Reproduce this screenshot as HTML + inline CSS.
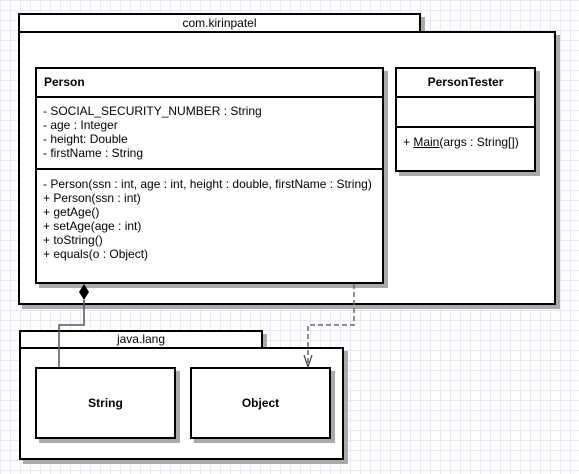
<!DOCTYPE html>
<html><head><style>
html,body{margin:0;padding:0}
body{width:579px;height:474px;overflow:hidden;position:relative;background-color:#fff;
background-image:linear-gradient(#e8e8f6 1px,transparent 1px),linear-gradient(90deg,#e8e8f6 1px,transparent 1px);
background-size:10px 10px;font-family:"Liberation Sans",sans-serif;font-size:12px;color:#000}
.b{position:absolute;background:#fff;border:2px solid #000;box-sizing:border-box;box-shadow:4px 4px 0 #aaa}
.t{position:absolute;white-space:nowrap}
.hl{position:absolute;height:2px;background:#000}
</style></head><body>
<div class="b" style="left:18px;top:13px;width:403px;height:21px"></div>
<div class="t" style="left:18px;top:16px;width:403px;text-align:center">com.kirinpatel</div>
<div class="b" style="left:18px;top:31px;width:538px;height:274px"></div>

<div class="b" style="left:35px;top:67px;width:349px;height:217px"></div>
<div class="hl" style="left:35px;top:96px;width:349px"></div>
<div class="hl" style="left:35px;top:168px;width:349px"></div>
<div class="t" style="left:44px;top:75px;font-weight:bold">Person</div>
<div class="t" style="left:43px;top:104px;line-height:14px">- SOCIAL_SECURITY_NUMBER : String<br>- age : Integer<br>- height: Double<br>- firstName : String</div>
<div class="t" style="left:43px;top:177px;line-height:14px">- Person(ssn : int, age : int, height : double, firstName : String)<br>+ Person(ssn : int)<br>+ getAge()<br>+ setAge(age : int)<br>+ toString()<br>+ equals(o : Object)</div>

<div class="b" style="left:395px;top:67px;width:141px;height:105px"></div>
<div class="hl" style="left:395px;top:96px;width:141px"></div>
<div class="hl" style="left:395px;top:126px;width:141px"></div>
<div class="t" style="left:395px;top:75px;width:141px;text-align:center;font-weight:bold">PersonTester</div>
<div class="t" style="left:403px;top:135px">+ <u>Main</u>(args : String[])</div>

<div class="b" style="left:19px;top:330px;width:244px;height:19px"></div>
<div class="t" style="left:19px;top:332px;width:244px;text-align:center">java.lang</div>
<div class="b" style="left:19px;top:347px;width:325px;height:113px"></div>
<div class="b" style="left:35px;top:367px;width:141px;height:72px"></div>
<div class="t" style="left:35px;top:396px;width:141px;text-align:center;font-weight:bold">String</div>
<div class="b" style="left:190px;top:367px;width:141px;height:72px"></div>
<div class="t" style="left:190px;top:396px;width:141px;text-align:center;font-weight:bold">Object</div>

<svg width="579" height="474" style="position:absolute;left:0;top:0">
<polyline points="84,300 84,325 59,325 59,367" fill="none" stroke="#555" stroke-width="1.5"/>
<polygon points="84,284 89,292 84,300 79,292" fill="#000"/>
<polyline points="354,284 354,325 308,325 308,366" fill="none" stroke="#666" stroke-width="1.5" stroke-dasharray="5,3"/>
<polyline points="304,355 308,367 312,355" fill="none" stroke="#444" stroke-width="1.2"/>
</svg>
</body></html>
